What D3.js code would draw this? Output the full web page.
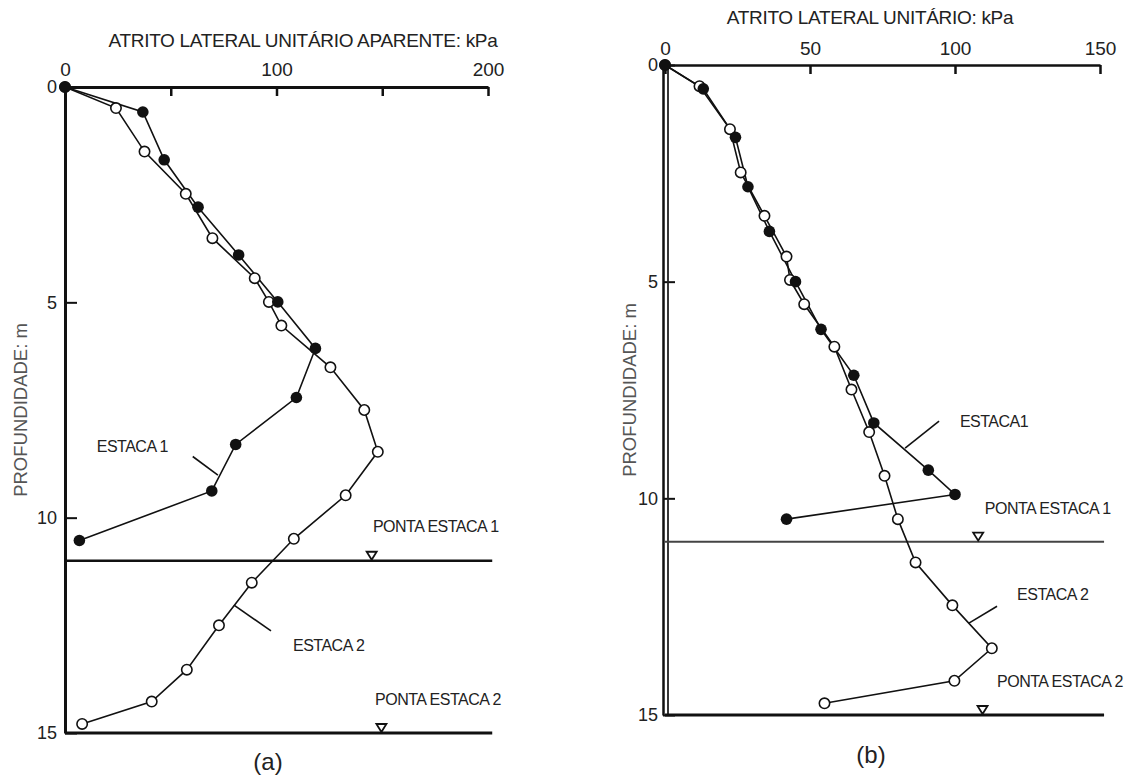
<!DOCTYPE html>
<html>
<head>
<meta charset="utf-8">
<script src="https://cdn.jsdelivr.net/npm/d3@7"></script>
<style>
    body { margin: 0; background: #fff; }
    text { font-family: "Liberation Sans", Arial, sans-serif; fill: #222; }
</style>
</head>
<body>
<div id="chart"></div>
<script>
// (a) atrito lateral unitario aparente, kPa x profundidade, m
var depthA1 = [0, 0.58, 1.69, 2.79, 3.9, 4.99, 6.07, 7.21, 8.3, 9.38, 10.53];
var atritoA1 = [0, 36.8, 46.9, 62.9, 82.1, 100.6, 118.4, 109.4, 80.7, 69.4, 6.8];
var depthA2 = [0, 0.49, 1.5, 2.48, 3.51, 4.44, 4.99, 5.54, 6.51, 7.5, 8.47, 9.48, 10.49, 11.51, 12.5, 13.53, 14.27, 14.79];
var atritoA2 = [0, 24.1, 37.6, 57.1, 69.7, 89.7, 96.4, 102.3, 125.5, 141.5, 147.9, 132.7, 108.2, 88.3, 72.8, 57.6, 41.0, 8.1];

// (b) atrito lateral unitario, kPa x profundidade, m
var depthB1 = [0, 0.55, 1.67, 2.81, 3.84, 5.0, 6.1, 7.16, 8.26, 9.35, 9.91, 10.48];
var atritoB1 = [0, 13.2, 24.3, 28.6, 36.0, 45.0, 53.8, 65.1, 72.0, 90.8, 100.0, 41.9];
var depthB2 = [0, 0.49, 1.48, 2.48, 3.48, 4.42, 4.96, 5.52, 6.5, 7.49, 8.47, 9.48, 10.48, 11.48, 12.47, 13.46, 14.21, 14.73];
var atritoB2 = [0, 11.9, 22.4, 26.1, 34.3, 41.9, 43.1, 48.0, 58.4, 64.3, 70.4, 75.7, 80.3, 86.4, 99.1, 112.7, 99.8, 55.0];

var xTicksA = [0, 50, 100, 150, 200];
var xTickLabelsA = ["0", "", "100", "", "200"];
var xTicksB = [0, 50, 100, 150];
var xTickLabelsB = ["0", "50", "100", "150"];
var yTicks = [0, 5, 10, 15];
var yTickLabels = ["0", "5", "10", "15"];

var pontaDepths = [11, 15];
var pontaLabels = ["PONTA ESTACA 1", "PONTA ESTACA 2"];
var pontaMarkA = [145, 149.6];
var pontaMarkB = [108, 109.5];

function init() {
    var w = 1144;
    var h = 778;

    var svg = d3.select("#chart")
        .append("svg")
        .attr("width", w)
        .attr("height", h);

    function zip(xs, ys) {
        return xs.map(function (v, i) { return { v: v, d: ys[i] }; });
    }

    function drawPanel(p) {
        var x = d3.scaleLinear().domain([0, p.xMax]).range([p.left, p.right]);
        var y = d3.scaleLinear().domain([0, 15]).range([p.top, p.bottom]);
        var g = svg.append("g");

        // eixo superior
        var ax = g.append("g")
            .attr("transform", "translate(0," + p.top + ")")
            .call(d3.axisTop(x)
                .tickValues(p.xTicks)
                .tickFormat(function (d, i) { return p.xTickLabels[i]; })
                .tickSizeInner(-9)
                .tickSizeOuter(0)
                .tickPadding(p.xPad));
        ax.select(".domain").attr("stroke", "#111").attr("stroke-width", p.axisW);
        ax.selectAll(".tick line").attr("stroke", "#111").attr("stroke-width", 2.5);
        ax.selectAll(".tick text").attr("font-size", 19);

        // eixo de profundidade
        var ay = g.append("g")
            .attr("transform", "translate(" + (x(0) + p.yShift) + ",0)")
            .call(d3.axisLeft(y)
                .tickValues(yTicks)
                .tickFormat(function (d, i) { return yTickLabels[i]; })
                .tickSizeInner(-12)
                .tickSizeOuter(0)
                .tickPadding(p.yPad));
        ay.select(".domain").attr("stroke", "#111").attr("stroke-width", p.axisW);
        ay.selectAll(".tick line").attr("stroke", "#111").attr("stroke-width", 2);
        ay.selectAll(".tick text").attr("font-size", 18);

        if (p.double) {
            g.append("line")
                .attr("x1", x(0) + 3).attr("x2", x(0) + 3)
                .attr("y1", y(0)).attr("y2", y(15))
                .attr("stroke", "#222").attr("stroke-width", 1.8);
        }

        // linhas das pontas
        g.selectAll(".ponta")
            .data(pontaDepths)
            .enter()
            .append("line")
            .attr("x1", x(0))
            .attr("x2", x(p.lineEnd))
            .attr("y1", function (d) { return y(d); })
            .attr("y2", function (d) { return y(d); })
            .attr("stroke", function (d, i) { return i == 0 ? p.ponta1Color : "#111"; })
            .attr("stroke-width", function (d, i) { return i == 0 ? p.ponta1W : 3; });

        g.selectAll(".tri")
            .data(pontaDepths)
            .enter()
            .append("path")
            .attr("d", function (d, i) {
                var cx = x(p.pontaMark[i]);
                var cy = y(d);
                return "M" + (cx - 5) + "," + (cy - 9) + "L" + (cx + 5) + "," + (cy - 9) + "L" + cx + "," + (cy - 1) + "Z";
            })
            .attr("fill", "#fff")
            .attr("stroke", "#111")
            .attr("stroke-width", 1.8);

        g.selectAll(".pontaLabel")
            .data(pontaDepths)
            .enter()
            .append("text")
            .text(function (d, i) { return pontaLabels[i]; })
            .attr("x", function (d, i) { return x(p.pontaText[i][0]); })
            .attr("y", function (d, i) { return y(p.pontaText[i][1]); })
            .attr("font-size", 16)
            .attr("letter-spacing", -0.5);

        var line = d3.line()
            .x(function (d) { return x(d.v); })
            .y(function (d) { return y(d.d); });

        var s2 = zip(p.atrito2, p.depth2);
        var s1 = zip(p.atrito1, p.depth1);

        g.append("path").datum(s2).attr("d", line)
            .attr("fill", "none").attr("stroke", "#111").attr("stroke-width", 1.6);
        g.append("path").datum(s1).attr("d", line)
            .attr("fill", "none").attr("stroke", "#111").attr("stroke-width", 1.6);

        g.selectAll(".open")
            .data(s2)
            .enter()
            .append("circle")
            .attr("cx", function (d) { return x(d.v); })
            .attr("cy", function (d) { return y(d.d); })
            .attr("r", 5.2)
            .attr("fill", "#fff")
            .attr("stroke", "#111")
            .attr("stroke-width", 1.6);

        g.selectAll(".full")
            .data(s1)
            .enter()
            .append("circle")
            .attr("cx", function (d) { return x(d.v); })
            .attr("cy", function (d) { return y(d.d); })
            .attr("r", 5.8)
            .attr("fill", "#111");

        // rotulos das estacas com linha de chamada
        p.notes.forEach(function (n) {
            g.append("text")
                .text(n.label)
                .attr("x", x(n.tx))
                .attr("y", y(n.td))
                .attr("font-size", 16)
                .attr("letter-spacing", -0.5);
            g.append("line")
                .attr("x1", x(n.l[0])).attr("y1", y(n.l[1]))
                .attr("x2", x(n.l[2])).attr("y2", y(n.l[3]))
                .attr("stroke", "#111").attr("stroke-width", 1.6);
        });

        g.append("text")
            .text(p.title)
            .attr("x", p.titleX)
            .attr("y", p.titleY)
            .attr("text-anchor", "middle")
            .attr("font-size", 19)
            .attr("letter-spacing", -0.3);

        g.append("text")
            .text("PROFUNDIDADE: m")
            .attr("transform", "translate(" + p.ylabX + "," + y(p.ylabD) + ") rotate(-90)")
            .attr("text-anchor", "middle")
            .attr("font-size", 18.5)
            .style("fill", "#555");

        g.append("text")
            .text(p.caption)
            .attr("x", p.capX)
            .attr("y", p.capY)
            .attr("text-anchor", "middle")
            .attr("font-size", 24);
    }

    drawPanel({
        xMax: 200, left: 65, right: 488, top: 87, bottom: 733,
        xTicks: xTicksA, xTickLabels: xTickLabelsA, xPad: 11, yPad: 8, yShift: 0,
        axisW: 3, double: false, lineEnd: 202, ponta1Color: "#111", ponta1W: 2.5,
        pontaMark: pontaMarkA, pontaText: [[145.6, 10.34], [146.6, 14.35]],
        depth1: depthA1, atrito1: atritoA1, depth2: depthA2, atrito2: atritoA2,
        notes: [
            { label: "ESTACA 1", tx: 15, td: 8.47, l: [60.4, 8.58, 72.3, 9.01] },
            { label: "ESTACA 2", tx: 107.8, td: 13.09, l: [97.4, 12.63, 79.9, 12.03] }
        ],
        title: "ATRITO LATERAL UNITÁRIO APARENTE: kPa", titleX: 303, titleY: 47,
        ylabX: 27, ylabD: 7.5, caption: "(a)", capX: 268, capY: 770
    });

    drawPanel({
        xMax: 150, left: 665, right: 1100, top: 65, bottom: 715,
        xTicks: xTicksB, xTickLabels: xTickLabelsB, xPad: 10, yPad: 5, yShift: -2,
        axisW: 2.5, double: true, lineEnd: 151.4, ponta1Color: "#444", ponta1W: 2,
        pontaMark: pontaMarkB, pontaText: [[110.3, 10.36], [114.5, 14.35]],
        depth1: depthB1, atrito1: atritoB1, depth2: depthB2, atrito2: atritoB2,
        notes: [
            { label: "ESTACA1", tx: 101.7, td: 8.35, l: [94.5, 8.22, 82.8, 8.84] },
            { label: "ESTACA 2", tx: 121.4, td: 12.35, l: [114.5, 12.49, 104.8, 12.88] }
        ],
        title: "ATRITO LATERAL UNITÁRIO: kPa", titleX: 870, titleY: 24,
        ylabX: 636, ylabD: 7.5, caption: "(b)", capX: 871, capY: 763
    });
}
window.onload = init;
</script>
</body>
</html>
